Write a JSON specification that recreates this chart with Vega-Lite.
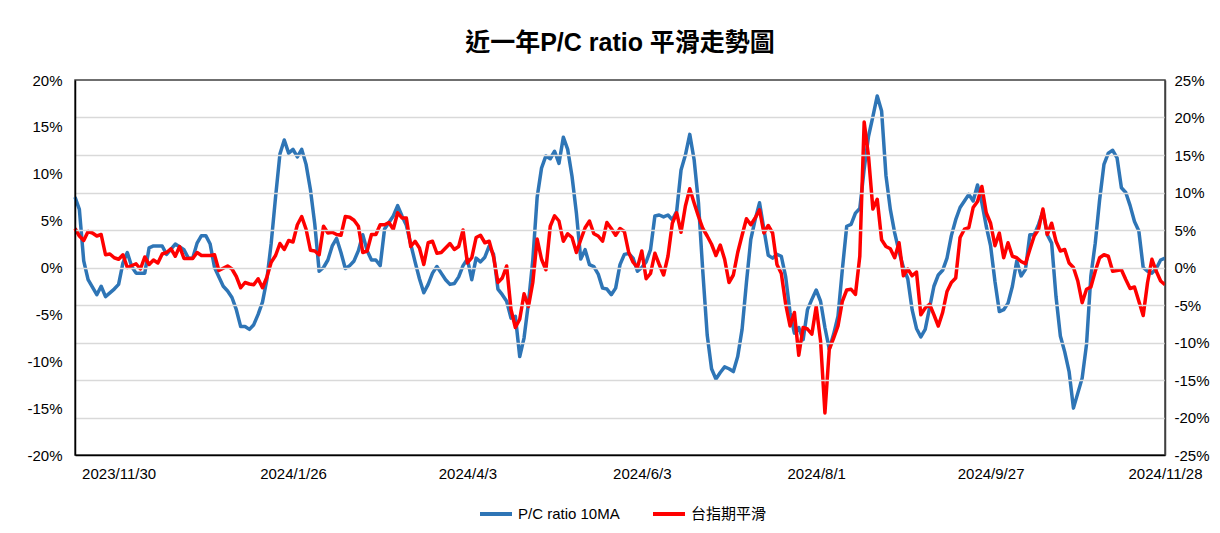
{
"$schema": "https://vega.github.io/schema/vega-lite/v6.json",
"width": 1090, "height": 375,
"autosize": {"type": "none"},
"padding": {"left": 75, "top": 80, "right": 55, "bottom": 78},
"background": "white",
"title": {"text": "近一年P/C ratio 平滑走勢圖", "font": "Liberation Sans, Noto Sans CJK TC", "fontSize": 25, "fontWeight": "bold", "color": "#000", "anchor": "middle", "offset": 17},
"config": {
  "view": {"stroke": "#404040", "strokeWidth": 1.5},
  "axis": {"labelFont": "Liberation Sans", "labelFontSize": 15, "labelColor": "#000", "ticks": false, "title": null}
},
"datasets": {
"pc": [
{"t":0,"v":7.5},{"t":1,"v":6.2},{"t":2,"v":0.7},{"t":3,"v":-1.3},{"t":5,"v":-2.9},{"t":6,"v":-2.0},{"t":7,"v":-3.1},{"t":9,"v":-2.3},{"t":10,"v":-1.8},{"t":11,"v":0.5},{"t":12,"v":1.6},{"t":13,"v":0.1},{"t":14,"v":-0.6},{"t":16,"v":-0.6},{"t":17,"v":2.1},{"t":18,"v":2.3},{"t":20,"v":2.3},{"t":21,"v":1.4},{"t":23,"v":2.5},{"t":25,"v":1.9},{"t":26,"v":1.0},{"t":27,"v":1.0},{"t":28,"v":2.6},{"t":29,"v":3.4},{"t":30,"v":3.4},{"t":31,"v":2.5},{"t":32,"v":0.0},{"t":34,"v":-2.0},{"t":35,"v":-2.5},{"t":36,"v":-3.2},{"t":37,"v":-4.5},{"t":38,"v":-6.3},{"t":39,"v":-6.3},{"t":40,"v":-6.6},{"t":41,"v":-6.1},{"t":42,"v":-5.0},{"t":43,"v":-3.7},{"t":44,"v":-1.3},{"t":45,"v":2.6},{"t":46,"v":7.5},{"t":47,"v":12.1},{"t":48,"v":13.6},{"t":49,"v":12.2},{"t":50,"v":12.6},{"t":51,"v":11.8},{"t":52,"v":12.6},{"t":53,"v":11.0},{"t":54,"v":8.3},{"t":55,"v":4.6},{"t":56,"v":-0.4},{"t":57,"v":0.0},{"t":58,"v":0.8},{"t":59,"v":2.3},{"t":60,"v":3.1},{"t":61,"v":1.6},{"t":62,"v":-0.1},{"t":63,"v":0.2},{"t":64,"v":0.7},{"t":65,"v":1.8},{"t":66,"v":3.5},{"t":67,"v":1.8},{"t":68,"v":0.8},{"t":69,"v":0.8},{"t":70,"v":0.2},{"t":71,"v":4.1},{"t":72,"v":4.8},{"t":73,"v":5.5},{"t":74,"v":6.6},{"t":75,"v":5.5},{"t":76,"v":4.5},{"t":77,"v":2.5},{"t":78,"v":0.6},{"t":79,"v":-1.2},{"t":80,"v":-2.7},{"t":81,"v":-1.8},{"t":82,"v":-0.6},{"t":83,"v":0.1},{"t":84,"v":-0.6},{"t":85,"v":-1.3},{"t":86,"v":-1.8},{"t":87,"v":-1.7},{"t":88,"v":-1.0},{"t":89,"v":0.2},{"t":90,"v":0.9},{"t":91,"v":-1.3},{"t":92,"v":1.0},{"t":93,"v":0.6},{"t":94,"v":1.1},{"t":95,"v":2.3},{"t":96,"v":1.4},{"t":97,"v":-2.3},{"t":98,"v":-2.9},{"t":99,"v":-3.6},{"t":100,"v":-5.4},{"t":101,"v":-5.2},{"t":102,"v":-9.5},{"t":103,"v":-7.5},{"t":104,"v":-3.8},{"t":105,"v":0.8},{"t":106,"v":7.5},{"t":107,"v":10.6},{"t":108,"v":11.9},{"t":109,"v":11.6},{"t":110,"v":12.4},{"t":111,"v":11.1},{"t":112,"v":13.9},{"t":113,"v":12.6},{"t":114,"v":9.7},{"t":115,"v":5.8},{"t":116,"v":0.9},{"t":117,"v":1.9},{"t":118,"v":0.3},{"t":119,"v":0.1},{"t":120,"v":-0.7},{"t":121,"v":-2.2},{"t":122,"v":-2.3},{"t":123,"v":-2.9},{"t":124,"v":-2.2},{"t":125,"v":0.3},{"t":126,"v":1.4},{"t":127,"v":1.5},{"t":128,"v":1.0},{"t":129,"v":-0.4},{"t":130,"v":0.0},{"t":131,"v":0.6},{"t":132,"v":1.9},{"t":133,"v":5.5},{"t":134,"v":5.6},{"t":135,"v":5.4},{"t":136,"v":5.6},{"t":137,"v":5.1},{"t":138,"v":6.0},{"t":139,"v":10.4},{"t":140,"v":12.0},{"t":141,"v":14.2},{"t":142,"v":11.5},{"t":143,"v":6.9},{"t":144,"v":-0.5},{"t":145,"v":-7.2},{"t":146,"v":-10.8},{"t":147,"v":-11.9},{"t":148,"v":-11.2},{"t":149,"v":-10.6},{"t":150,"v":-10.8},{"t":151,"v":-11.1},{"t":152,"v":-9.5},{"t":153,"v":-6.6},{"t":154,"v":-1.6},{"t":155,"v":3.0},{"t":156,"v":5.1},{"t":157,"v":6.9},{"t":158,"v":4.1},{"t":159,"v":1.3},{"t":160,"v":1.0},{"t":161,"v":1.4},{"t":162,"v":1.2},{"t":163,"v":-1.0},{"t":164,"v":-4.8},{"t":165,"v":-7.0},{"t":166,"v":-6.4},{"t":167,"v":-7.7},{"t":168,"v":-4.5},{"t":169,"v":-3.4},{"t":170,"v":-2.4},{"t":171,"v":-3.6},{"t":172,"v":-6.4},{"t":173,"v":-8.7},{"t":174,"v":-7.1},{"t":175,"v":-5.2},{"t":176,"v":-0.2},{"t":177,"v":4.4},{"t":178,"v":4.6},{"t":179,"v":5.8},{"t":180,"v":6.3},{"t":181,"v":10.5},{"t":182,"v":14.0},{"t":183,"v":16.1},{"t":184,"v":18.3},{"t":185,"v":16.7},{"t":186,"v":9.8},{"t":187,"v":6.2},{"t":188,"v":3.7},{"t":189,"v":1.7},{"t":190,"v":0.0},{"t":191,"v":-1.2},{"t":192,"v":-4.5},{"t":193,"v":-6.5},{"t":194,"v":-7.4},{"t":195,"v":-6.6},{"t":196,"v":-4.3},{"t":197,"v":-2.0},{"t":198,"v":-0.8},{"t":199,"v":-0.3},{"t":200,"v":1.0},{"t":201,"v":3.4},{"t":202,"v":5.1},{"t":203,"v":6.4},{"t":204,"v":7.1},{"t":205,"v":7.8},{"t":206,"v":7.1},{"t":207,"v":8.8},{"t":208,"v":6.9},{"t":209,"v":4.4},{"t":210,"v":2.3},{"t":211,"v":-1.5},{"t":212,"v":-4.7},{"t":213,"v":-4.5},{"t":214,"v":-3.8},{"t":215,"v":-2.0},{"t":216,"v":0.7},{"t":217,"v":-0.9},{"t":218,"v":-0.2},{"t":219,"v":3.5},{"t":220,"v":3.5},{"t":221,"v":4.6},{"t":222,"v":6.0},{"t":223,"v":3.5},{"t":224,"v":2.6},{"t":225,"v":-3.1},{"t":226,"v":-7.3},{"t":227,"v":-9.0},{"t":228,"v":-11.1},{"t":229,"v":-15.0},{"t":230,"v":-13.4},{"t":231,"v":-11.8},{"t":232,"v":-8.2},{"t":233,"v":-0.9},{"t":234,"v":2.6},{"t":235,"v":7.2},{"t":236,"v":11.0},{"t":237,"v":12.2},{"t":238,"v":12.5},{"t":239,"v":11.7},{"t":240,"v":8.5},{"t":241,"v":8.0},{"t":242,"v":6.6},{"t":243,"v":4.9},{"t":244,"v":3.9},{"t":245,"v":0.0},{"t":246,"v":-0.4},{"t":247,"v":-0.6},{"t":248,"v":-0.1},{"t":249,"v":0.8},{"t":250,"v":1.0}
],
"tx": [
{"t":0,"v":5.2},{"t":1,"v":4.2},{"t":2,"v":3.6},{"t":3,"v":4.8},{"t":4,"v":4.6},{"t":5,"v":4.2},{"t":6,"v":4.4},{"t":7,"v":1.7},{"t":8,"v":1.8},{"t":9,"v":1.3},{"t":10,"v":1.1},{"t":11,"v":1.7},{"t":12,"v":0.0},{"t":14,"v":0.5},{"t":15,"v":-0.2},{"t":16,"v":1.4},{"t":17,"v":0.4},{"t":18,"v":1.0},{"t":19,"v":0.6},{"t":20,"v":1.8},{"t":21,"v":2.0},{"t":22,"v":2.5},{"t":23,"v":1.5},{"t":24,"v":2.8},{"t":25,"v":1.2},{"t":27,"v":1.2},{"t":28,"v":2.0},{"t":29,"v":1.6},{"t":31,"v":1.6},{"t":32,"v":1.7},{"t":33,"v":-0.4},{"t":35,"v":0.2},{"t":36,"v":-0.2},{"t":37,"v":-1.2},{"t":38,"v":-2.7},{"t":39,"v":-2.0},{"t":40,"v":-2.2},{"t":41,"v":-2.3},{"t":42,"v":-1.5},{"t":43,"v":-2.7},{"t":44,"v":-1.3},{"t":45,"v":0.7},{"t":46,"v":1.6},{"t":47,"v":3.2},{"t":48,"v":2.4},{"t":49,"v":3.6},{"t":50,"v":3.4},{"t":51,"v":5.7},{"t":52,"v":6.8},{"t":53,"v":5.1},{"t":54,"v":2.3},{"t":55,"v":2.2},{"t":56,"v":1.7},{"t":57,"v":5.5},{"t":58,"v":4.6},{"t":59,"v":4.7},{"t":60,"v":4.4},{"t":61,"v":4.3},{"t":62,"v":6.8},{"t":63,"v":6.7},{"t":64,"v":6.3},{"t":65,"v":5.5},{"t":66,"v":2.0},{"t":67,"v":2.2},{"t":68,"v":4.4},{"t":69,"v":4.4},{"t":70,"v":5.7},{"t":71,"v":5.7},{"t":72,"v":6.0},{"t":73,"v":5.1},{"t":74,"v":7.3},{"t":75,"v":6.6},{"t":76,"v":6.6},{"t":77,"v":2.8},{"t":78,"v":3.5},{"t":79,"v":2.6},{"t":80,"v":0.4},{"t":81,"v":3.3},{"t":82,"v":3.5},{"t":83,"v":1.9},{"t":84,"v":2.0},{"t":86,"v":3.2},{"t":87,"v":2.4},{"t":88,"v":2.8},{"t":89,"v":5.0},{"t":90,"v":0.6},{"t":91,"v":1.3},{"t":92,"v":4.0},{"t":93,"v":4.3},{"t":94,"v":3.3},{"t":95,"v":3.5},{"t":96,"v":1.4},{"t":97,"v":-2.0},{"t":98,"v":-1.4},{"t":99,"v":0.2},{"t":100,"v":-5.6},{"t":101,"v":-8.0},{"t":102,"v":-6.9},{"t":103,"v":-3.5},{"t":104,"v":-5.2},{"t":105,"v":-2.0},{"t":106,"v":3.8},{"t":107,"v":1.1},{"t":108,"v":-0.3},{"t":109,"v":5.5},{"t":110,"v":6.9},{"t":111,"v":6.2},{"t":112,"v":3.5},{"t":113,"v":4.5},{"t":114,"v":4.0},{"t":115,"v":2.0},{"t":116,"v":3.7},{"t":117,"v":5.3},{"t":118,"v":6.2},{"t":119,"v":4.5},{"t":120,"v":4.2},{"t":121,"v":3.5},{"t":122,"v":6.0},{"t":123,"v":5.2},{"t":124,"v":4.3},{"t":125,"v":5.2},{"t":126,"v":4.8},{"t":127,"v":2.0},{"t":128,"v":0.7},{"t":129,"v":0.0},{"t":130,"v":2.2},{"t":131,"v":-1.5},{"t":132,"v":-0.8},{"t":133,"v":1.9},{"t":134,"v":0.4},{"t":135,"v":-1.0},{"t":136,"v":1.5},{"t":137,"v":5.9},{"t":138,"v":7.3},{"t":139,"v":4.7},{"t":140,"v":8.2},{"t":141,"v":10.5},{"t":142,"v":8.6},{"t":143,"v":6.8},{"t":144,"v":5.2},{"t":145,"v":4.2},{"t":146,"v":3.1},{"t":147,"v":1.6},{"t":148,"v":3.0},{"t":149,"v":1.1},{"t":150,"v":-2.0},{"t":151,"v":-1.0},{"t":152,"v":2.0},{"t":153,"v":4.3},{"t":154,"v":6.5},{"t":155,"v":5.7},{"t":156,"v":6.6},{"t":157,"v":7.7},{"t":158,"v":4.6},{"t":159,"v":5.6},{"t":160,"v":4.6},{"t":161,"v":0.4},{"t":162,"v":-0.8},{"t":163,"v":-4.9},{"t":164,"v":-7.8},{"t":165,"v":-6.0},{"t":166,"v":-11.7},{"t":167,"v":-8.0},{"t":168,"v":-8.2},{"t":169,"v":-8.9},{"t":170,"v":-5.2},{"t":171,"v":-9.8},{"t":172,"v":-19.4},{"t":173,"v":-10.9},{"t":174,"v":-9.4},{"t":175,"v":-7.8},{"t":176,"v":-4.5},{"t":177,"v":-3.0},{"t":178,"v":-2.9},{"t":179,"v":-3.6},{"t":180,"v":1.5},{"t":181,"v":19.4},{"t":182,"v":14.8},{"t":183,"v":7.8},{"t":184,"v":9.1},{"t":185,"v":3.7},{"t":186,"v":2.8},{"t":187,"v":2.5},{"t":188,"v":1.3},{"t":189,"v":3.3},{"t":190,"v":-1.1},{"t":191,"v":-0.2},{"t":192,"v":-1.1},{"t":193,"v":-0.6},{"t":194,"v":-6.3},{"t":195,"v":-5.4},{"t":196,"v":-4.9},{"t":197,"v":-6.3},{"t":198,"v":-7.8},{"t":199,"v":-6.0},{"t":200,"v":-3.2},{"t":201,"v":-2.0},{"t":202,"v":-1.4},{"t":203,"v":4.0},{"t":204,"v":5.1},{"t":205,"v":5.3},{"t":206,"v":8.0},{"t":207,"v":8.8},{"t":208,"v":10.8},{"t":209,"v":7.3},{"t":210,"v":5.9},{"t":211,"v":2.9},{"t":212,"v":4.6},{"t":213,"v":1.3},{"t":214,"v":3.3},{"t":215,"v":1.5},{"t":216,"v":1.3},{"t":217,"v":0.8},{"t":218,"v":0.5},{"t":219,"v":2.4},{"t":220,"v":4.2},{"t":221,"v":5.1},{"t":222,"v":7.8},{"t":223,"v":4.4},{"t":224,"v":5.9},{"t":225,"v":3.5},{"t":226,"v":2.2},{"t":227,"v":2.4},{"t":228,"v":0.6},{"t":229,"v":0.0},{"t":230,"v":-1.8},{"t":231,"v":-4.7},{"t":232,"v":-2.9},{"t":233,"v":-2.6},{"t":234,"v":-0.5},{"t":235,"v":1.3},{"t":236,"v":1.7},{"t":237,"v":1.5},{"t":238,"v":-0.5},{"t":239,"v":-0.4},{"t":240,"v":-0.3},{"t":241,"v":-1.6},{"t":242,"v":-2.8},{"t":243,"v":-2.6},{"t":244,"v":-4.5},{"t":245,"v":-6.4},{"t":246,"v":-2.0},{"t":247,"v":1.1},{"t":248,"v":-0.5},{"t":249,"v":-1.8},{"t":250,"v":-2.3}
]
},
"layer": [
{
 "data": {"name": "pc"},
 "mark": {"type": "line", "strokeWidth": 3.5, "strokeJoin": "round"},
 "encoding": {
  "x": {"field": "t", "type": "quantitative", "scale": {"domain": [0, 250], "nice": false, "zero": false},
        "axis": {"values": [10, 50, 90, 130, 170, 210, 250], "grid": false, "domainColor": "#000", "domainWidth": 1.5, "zindex": 1, "labelPadding": 11, "labelFlush": false,
                 "labelExpr": "datum.value == 10 ? '2023/11/30' : datum.value == 50 ? '2024/1/26' : datum.value == 90 ? '2024/4/3' : datum.value == 130 ? '2024/6/3' : datum.value == 170 ? '2024/8/1' : datum.value == 210 ? '2024/9/27' : '2024/11/28'"}},
  "y": {"field": "v", "type": "quantitative", "scale": {"domain": [-20, 20], "nice": false, "zero": false},
        "axis": {"values": [-20, -15, -10, -5, 0, 5, 10, 15, 20], "grid": false, "domainColor": "#000", "domainWidth": 1.5, "zindex": 1, "labelPadding": 13, "labelExpr": "datum.value + '%'"}},
  "color": {"datum": "P/C ratio 10MA", "scale": {"domain": ["P/C ratio 10MA", "台指期平滑"], "range": ["#2E75B6", "#FF0000"]},
            "legend": {"orient": "none", "legendX": 403, "legendY": 416, "direction": "horizontal", "title": null, "symbolType": "stroke", "symbolStrokeWidth": 4, "symbolSize": 1024, "labelFontSize": 15, "labelFont": "Liberation Sans, Noto Sans CJK TC", "labelColor": "#000", "columnPadding": 25, "labelOffset": 4}}
 }
},
{
 "data": {"name": "tx"},
 "mark": {"type": "line", "strokeWidth": 3.5, "strokeJoin": "round"},
 "encoding": {
  "x": {"field": "t", "type": "quantitative"},
  "y": {"field": "v", "type": "quantitative", "scale": {"domain": [-25, 25], "nice": false, "zero": false},
        "axis": {"orient": "right", "values": [-25, -20, -15, -10, -5, 0, 5, 10, 15, 20, 25], "grid": true, "gridColor": {"condition": {"test": "abs(datum.value) == 25", "value": "transparent"}, "value": "#d9d9d9"}, "gridWidth": 1.5, "domainColor": "#404040", "domainWidth": 1.5, "zindex": 1, "labelPadding": 9, "labelExpr": "datum.value + '%'"}},
  "color": {"datum": "台指期平滑"}
 }
}
],
"resolve": {"scale": {"y": "independent"}}
}
